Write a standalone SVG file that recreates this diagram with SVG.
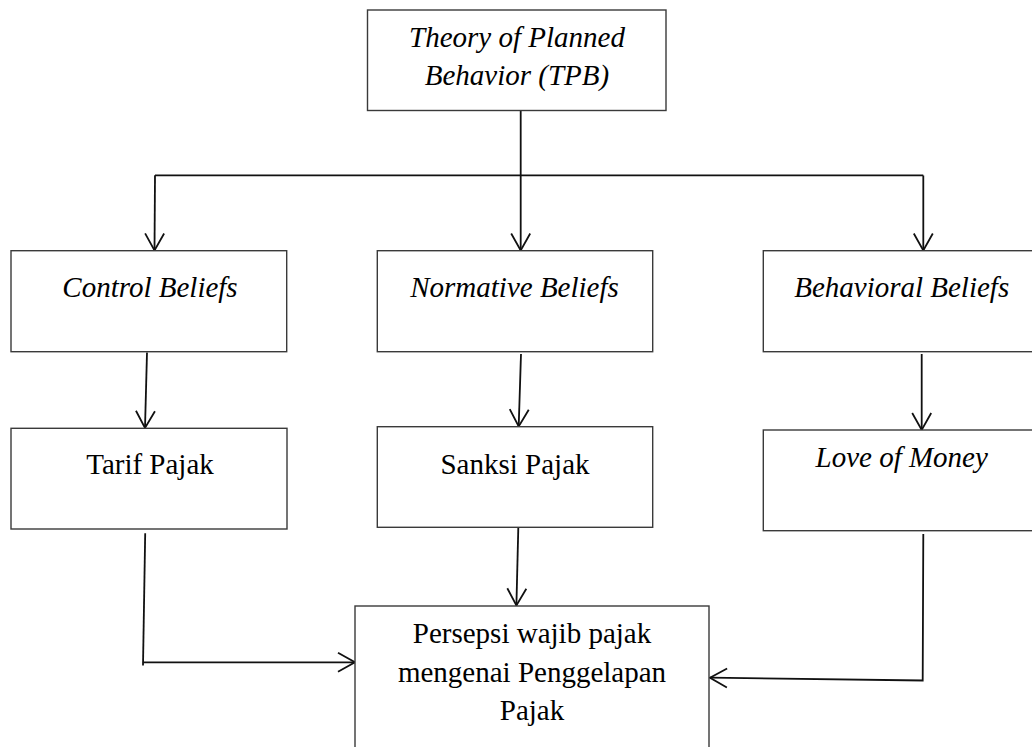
<svg xmlns="http://www.w3.org/2000/svg" width="1032" height="747" viewBox="0 0 1032 747">
<defs>
<style>
.box{fill:#fff;stroke:#3a3a3a;stroke-width:1.4}
.t{font-family:"Liberation Serif","Times New Roman",serif;font-size:29px;fill:#000;text-anchor:middle}
.i{font-style:italic}
.c{fill:none;stroke:#111;stroke-width:1.8}
</style>
<marker id="ah" viewBox="0 0 20 22" refX="18" refY="11" markerWidth="20" markerHeight="22" markerUnits="userSpaceOnUse" orient="auto">
<path d="M1,1.5 L18,11 L1,20.5" fill="none" stroke="#111" stroke-width="1.8"/>
</marker>
</defs>
<rect width="1032" height="747" fill="#fff"/>
<g id="connectors">
<path class="c" d="M520.7,110.5 V175.5"/>
<path class="c" d="M155,175.3 H923.3"/>
<path class="c" d="M155,175.3 L154.5,250.5" marker-end="url(#ah)"/>
<path class="c" d="M520.7,175.5 V250.5" marker-end="url(#ah)"/>
<path class="c" d="M923.3,175.5 V250.5" marker-end="url(#ah)"/>
<path class="c" d="M147,352.5 L145,428" marker-end="url(#ah)"/>
<path class="c" d="M521,354 L518.7,426.5" marker-end="url(#ah)"/>
<path class="c" d="M921.7,354 V430" marker-end="url(#ah)"/>
<path class="c" d="M145.2,533.3 L143,665.5"/>
<path class="c" d="M143,662.3 H355" marker-end="url(#ah)"/>
<path class="c" d="M518.3,527.7 L516.4,605.5" marker-end="url(#ah)"/>
<path class="c" d="M923.3,534 L922.7,680.5 L710,677.7" marker-end="url(#ah)"/>
</g>
<g id="tpb">
<rect class="box" x="367.5" y="10" width="298.5" height="100.5"/>
<text class="t i" x="517" y="46.7">Theory of Planned</text>
<text class="t i" x="517" y="85">Behavior (TPB)</text>
</g>
<g id="control-beliefs">
<rect class="box" x="11" y="250.7" width="275.7" height="101"/>
<text class="t i" x="150" y="296.7">Control Beliefs</text>
</g>
<g id="normative-beliefs">
<rect class="box" x="377.3" y="250.7" width="275.4" height="101"/>
<text class="t i" x="514.5" y="296.7">Normative Beliefs</text>
</g>
<g id="behavioral-beliefs">
<rect class="box" x="763.3" y="250.7" width="280" height="101"/>
<text class="t i" x="901.7" y="296.7">Behavioral Beliefs</text>
</g>
<g id="tarif-pajak">
<rect class="box" x="11" y="428.3" width="276" height="100.7"/>
<text class="t" x="150" y="474.3">Tarif Pajak</text>
</g>
<g id="sanksi-pajak">
<rect class="box" x="377.3" y="426.7" width="275.4" height="100.6"/>
<text class="t" x="515" y="474.3">Sanksi Pajak</text>
</g>
<g id="love-of-money">
<rect class="box" x="763.3" y="430" width="280" height="100.7"/>
<text class="t i" x="901.7" y="466.7">Love of Money</text>
</g>
<g id="persepsi">
<rect class="box" x="355" y="606" width="354" height="160"/>
<text class="t" x="532" y="643.3">Persepsi wajib pajak</text>
<text class="t" x="532" y="681.7">mengenai Penggelapan</text>
<text class="t" x="532" y="720">Pajak</text>
</g>
</svg>
